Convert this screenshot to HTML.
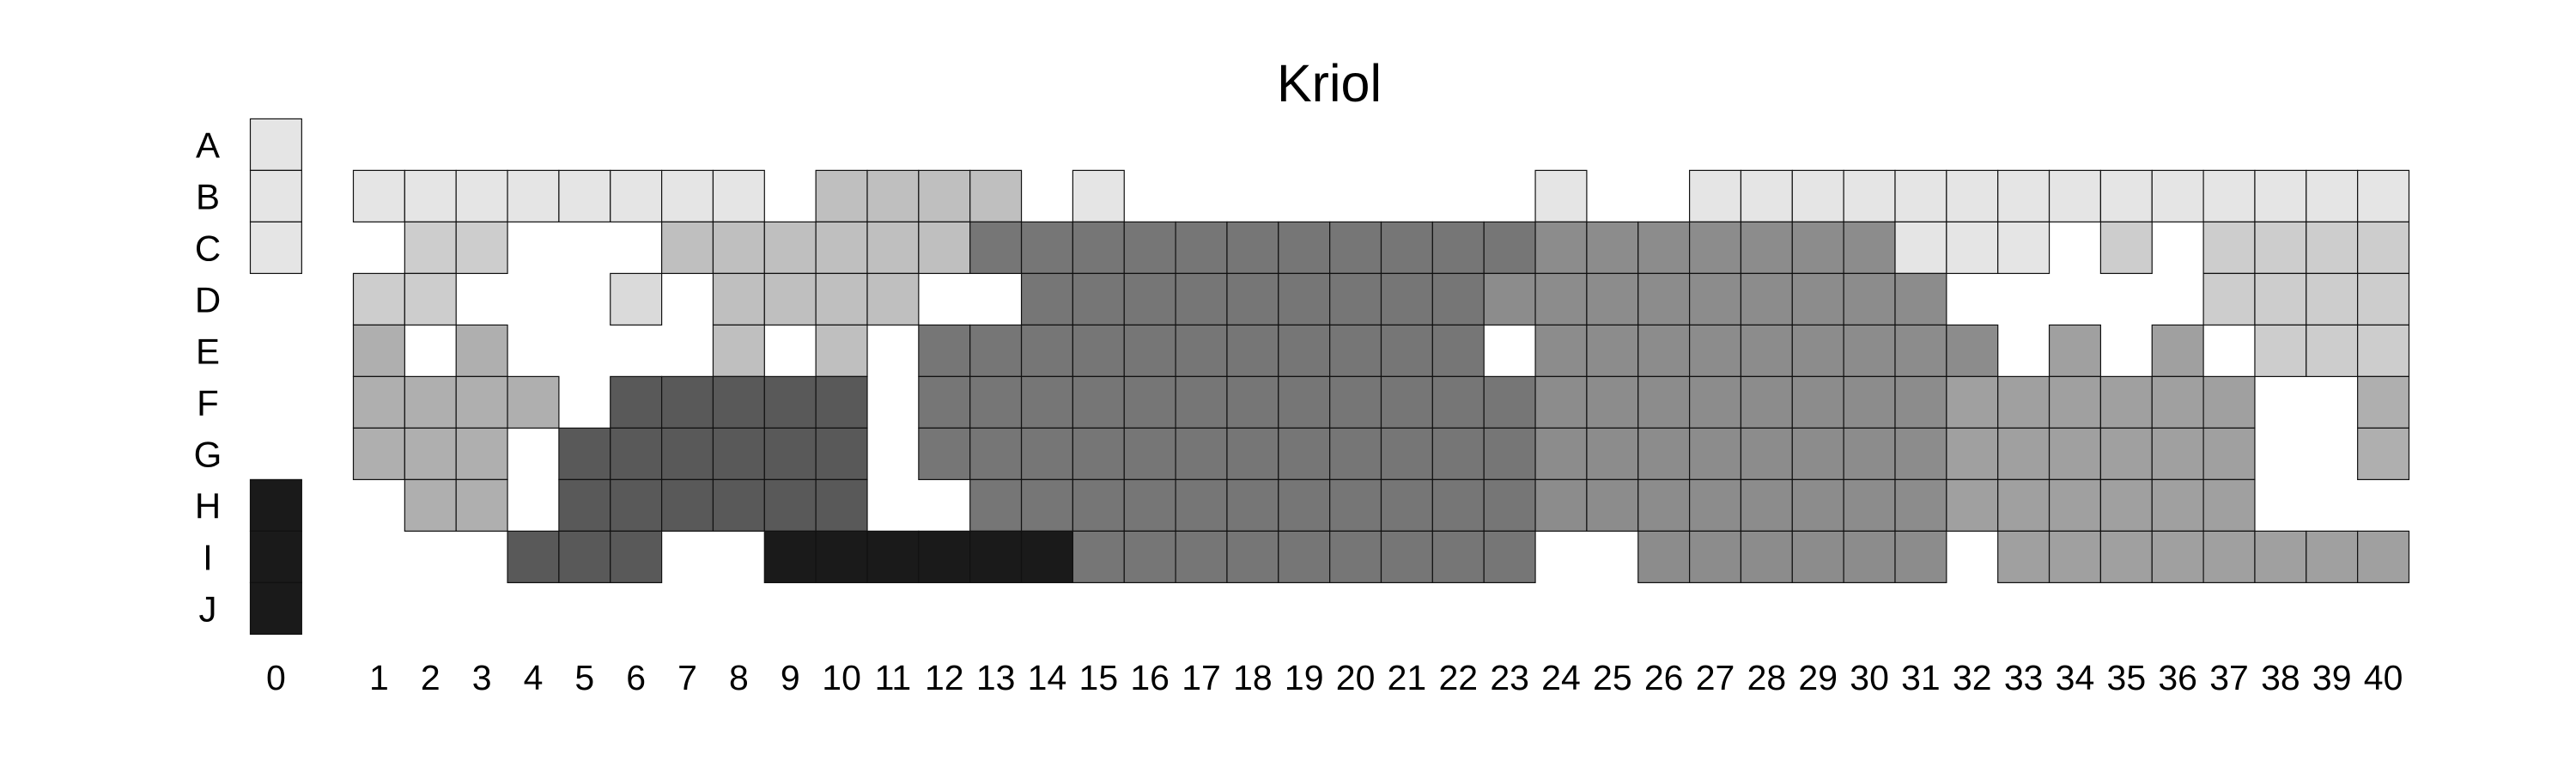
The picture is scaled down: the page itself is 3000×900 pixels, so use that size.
<!DOCTYPE html>
<html><head><meta charset="utf-8"><style>
html,body{margin:0;padding:0;background:#fff;width:3000px;height:900px;overflow:hidden}
svg text{font-family:"Liberation Sans",sans-serif;fill:#000}
</style></head><body>
<svg id="chart" width="3000" height="900" viewBox="0 0 3000 900" xmlns="http://www.w3.org/2000/svg">
<text x="1548" y="118" font-size="61" text-anchor="middle">Kriol</text>
<g id="cells"></g>
<g id="labels"></g>
</svg>
<script>
const rowLabels = ["A","B","C","D","E","F","G","H","I","J"];
const colLabels = ["0","1","2","3","4","5","6","7","8","9","10","11","12","13","14","15","16","17","18","19","20","21","22","23","24","25","26","27","28","29","30","31","32","33","34","35","36","37","38","39","40"];
const levelCodes = ["a","b","c","d","e","f","g","h","i","j"];
const levelColors = ["#e5e5e5","#dadada","#cdcdcd","#bfbfbf","#afafaf","#a0a0a0","#8c8c8c","#767676","#595959","#1a1a1a"];
const col0Values = "aaa....jjj";
const gridValues = [
"........................................",
"aaaaaaaa" + "." + "dddd" + "." + "a" + "........" + "a" + ".." + "aaaaaaaaaaaaaa",
"." + "cc" + "..." + "dddddd" + "hhhhhhhhhhh" + "ggggggg" + "aaa" + "." + "c" + "." + "cccc",
"cc" + "..." + "b" + "." + "dddd" + ".." + "hhhhhhhhh" + "ggggggggg" + "....." + "cccc",
"e.e" + "...." + "d.d." + "hhhhhhhhhhh" + "." + "ggggggggg" + ".f.f." + "ccc",
"eeee" + "." + "iiiii" + "." + "hhhhhhhhhhhh" + "gggggggg" + "ffffff" + ".." + "e",
"eee" + "." + "iiiiii" + "." + "hhhhhhhhhhhh" + "gggggggg" + "ffffff" + ".." + "e",
"." + "ee" + "." + "iiiiii" + ".." + "hhhhhhhhhhh" + "gggggggg" + "ffffff" + "...",
"..." + "iii" + ".." + "jjjjjj" + "hhhhhhhhh" + ".." + "gggggg" + "." + "ffffffff",
"........................................"
];
const NS="http://www.w3.org/2000/svg";
const cellW=59.85, rowH=60, gridTop=138.4, col0X=291.5, col1X=411.5;
function xOf(c){return c===0?col0X:col1X+(c-1)*cellW;}
function yOf(r){return gridTop+r*rowH;}
const gc=document.getElementById('cells');
function addCell(r,c,code){
  const i=levelCodes.indexOf(code); if(i<0) return;
  const el=document.createElementNS(NS,'rect');
  el.setAttribute('x',xOf(c)); el.setAttribute('y',yOf(r));
  el.setAttribute('width',cellW); el.setAttribute('height',rowH);
  el.setAttribute('fill',levelColors[i]); el.setAttribute('stroke','#111'); el.setAttribute('stroke-width','1.2');
  
  
  gc.appendChild(el);
}
for(let r=0;r<rowLabels.length;r++){
  addCell(r,0,col0Values[r]);
  const row=gridValues[r];
  for(let c=1;c<=40;c++){ addCell(r,c,row[c-1]); }
}
const gl=document.getElementById('labels');
rowLabels.forEach((t,r)=>{
  const el=document.createElementNS(NS,'text');
  el.setAttribute('x',242); el.setAttribute('y',yOf(r)+rowH/2+15);
  el.setAttribute('font-size','42'); el.setAttribute('text-anchor','middle');
  el.textContent=t;
  
  
  gl.appendChild(el);
});
colLabels.forEach((t,c)=>{
  const el=document.createElementNS(NS,'text');
  el.setAttribute('x',xOf(c)+cellW/2); el.setAttribute('y',803);
  el.setAttribute('font-size','41'); el.setAttribute('text-anchor','middle');
  el.textContent=t;
  
  
  gl.appendChild(el);
});
</script>
</body></html>
